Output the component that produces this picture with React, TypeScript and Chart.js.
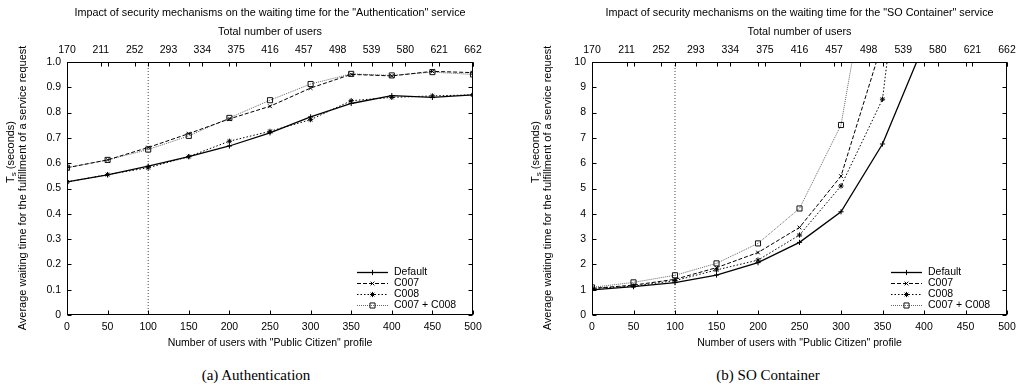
import React, { useEffect, useRef } from 'react';
import { Chart, registerables } from 'chart.js';

Chart.register(...registerables);

// ---------- data ----------
const USERS = [0, 50, 100, 150, 200, 250, 300, 350, 400, 450, 500];
const TOTAL_USERS_TICKS = [170, 211, 252, 293, 334, 375, 416, 457, 498, 539, 580, 621, 662];
const THRESHOLD_USERS = 100;
const SERIES_LABELS = ['Default', 'C007', 'C008', 'C007 + C008'];

const AUTH_DEFAULT = [0.526, 0.554, 0.588, 0.626, 0.668, 0.72, 0.783, 0.836, 0.867, 0.86, 0.87];
const AUTH_C007 = [0.582, 0.613, 0.662, 0.717, 0.775, 0.825, 0.897, 0.951, 0.945, 0.963, 0.958];
const AUTH_C008 = [0.526, 0.555, 0.582, 0.626, 0.687, 0.726, 0.772, 0.847, 0.86, 0.866, 0.87];
const AUTH_C007_C008 = [0.582, 0.613, 0.654, 0.708, 0.779, 0.849, 0.913, 0.953, 0.947, 0.96, 0.951];

const SO_DEFAULT = [0.99, 1.12, 1.28, 1.58, 2.07, 2.87, 4.08, 6.76, 10.7];
const SO_C007 = [1.05, 1.18, 1.41, 1.87, 2.47, 3.46, 5.49, 10.78];
const SO_C008 = [1.05, 1.14, 1.36, 1.78, 2.17, 3.16, 5.1, 8.53, 22];
const SO_C007_C008 = [1.09, 1.29, 1.57, 2.04, 2.83, 4.21, 7.51, 16.9];

const AUTH_TITLE = 'Impact of security mechanisms on the waiting time for the "Authentication" service';
const SO_TITLE = 'Impact of security mechanisms on the waiting time for the "SO Container" service';
const X2_TITLE = 'Total number of users';
const X_TITLE = 'Number of users with "Public Citizen" profile';
const Y_TITLE = 'Average waiting time for the fulfillment of a service request';
const Y_UNIT_MAIN = 'T';
const Y_UNIT_SUB = 's';
const Y_UNIT_REST = ' (seconds)';

// ---------- styles ----------
const FONT = '"Liberation Sans", Arial, Helvetica, sans-serif';
const STYLES = [
  { color: '#000', pointColor: '#000', width: 1.3, dash: [] as number[], point: 'cross', radius: 2.6 },
  { color: '#000', pointColor: '#000', width: 1, dash: [4, 2], point: 'crossRot', radius: 2.6 },
  { color: '#000', pointColor: '#000', width: 1, dash: [1.5, 2], point: 'star', radius: 2.6 },
  { color: '#666', pointColor: '#111', width: 1, dash: [1, 1], point: 'rect', radius: 3.6 },
];

const CANVAS_W = 512;
const CANVAS_H = 352;

function drawMarker(ctx: CanvasRenderingContext2D, style: string, x: number, y: number, r: number) {
  ctx.beginPath();
  if (style === 'cross' || style === 'star') {
    ctx.moveTo(x - r, y); ctx.lineTo(x + r, y);
    ctx.moveTo(x, y - r); ctx.lineTo(x, y + r);
  }
  if (style === 'crossRot' || style === 'star') {
    const d = r * Math.SQRT1_2;
    ctx.moveTo(x - d, y - d); ctx.lineTo(x + d, y + d);
    ctx.moveTo(x - d, y + d); ctx.lineTo(x + d, y - d);
  }
  if (style === 'rect') {
    const s = r * Math.SQRT1_2;
    ctx.rect(x - s, y - s, 2 * s, 2 * s);
  }
  ctx.stroke();
}

const gnuplotDecor = {
  id: 'gnuplotDecor',
  afterDraw(chart: any) {
    const ctx: CanvasRenderingContext2D = chart.ctx;
    const a = chart.chartArea;
    const o = chart.options.plugins.gnuplotDecor || {};
    const L = Math.round(a.left) + 0.5;
    const R = Math.round(a.right) - 0.5;
    const T = Math.round(a.top) + 0.5;
    const B = Math.round(a.bottom) - 0.5;
    const TL = 4;
    ctx.save();
    ctx.strokeStyle = '#000';
    ctx.lineWidth = 1;
    ctx.setLineDash([]);
    // frame
    ctx.strokeRect(L, T, R - L, B - T);
    // ticks
    ctx.beginPath();
    const xs = chart.scales.x;
    xs.ticks.forEach((t: any) => {
      const px = Math.round(xs.getPixelForValue(t.value)) + 0.5;
      ctx.moveTo(px, B); ctx.lineTo(px, B - TL);
      ctx.moveTo(px, T); ctx.lineTo(px, T + TL);
    });
    const x2 = chart.scales.x2;
    x2.ticks.forEach((t: any) => {
      const px = Math.round(x2.getPixelForValue(t.value)) + 0.5;
      ctx.moveTo(px, T); ctx.lineTo(px, T + TL);
    });
    const ys = chart.scales.y;
    ys.ticks.forEach((t: any) => {
      const py = Math.round(ys.getPixelForValue(t.value)) + 0.5;
      ctx.moveTo(L, py); ctx.lineTo(L + TL, py);
      ctx.moveTo(R, py); ctx.lineTo(R - TL, py);
    });
    ctx.stroke();

    // legend (bottom-right inside the plot)
    ctx.font = `10.5px ${FONT}`;
    ctx.fillStyle = '#000';
    ctx.textBaseline = 'middle';
    ctx.textAlign = 'left';
    const rows = [43, 32, 21, 10];
    chart.data.datasets.slice(0, 4).forEach((ds: any, i: number) => {
      const y = Math.round(a.bottom - rows[i]) + 0.5;
      const x0 = a.right - 116;
      const x1 = a.right - 85;
      ctx.strokeStyle = ds.borderColor;
      ctx.lineWidth = ds.borderWidth;
      ctx.setLineDash(ds.borderDash || []);
      ctx.beginPath();
      ctx.moveTo(x0, y); ctx.lineTo(x1, y);
      ctx.stroke();
      ctx.setLineDash([]);
      ctx.lineWidth = 1;
      ctx.strokeStyle = ds.pointBorderColor;
      drawMarker(ctx, ds.pointStyle, (x0 + x1) / 2, y, ds.pointRadius);
      ctx.fillText(ds.label, a.right - 79, y);
    });

    // y axis title (two rotated lines)
    ctx.fillStyle = '#000';
    ctx.textBaseline = 'middle';
    ctx.save();
    ctx.translate(o.xMain, o.yMain);
    ctx.rotate(-Math.PI / 2);
    ctx.font = `11px ${FONT}`;
    ctx.textAlign = 'center';
    ctx.fillText(Y_TITLE, 0, 0);
    ctx.restore();

    ctx.save();
    ctx.translate(o.xUnit, o.yUnit);
    ctx.rotate(-Math.PI / 2);
    ctx.textAlign = 'left';
    ctx.font = `11px ${FONT}`;
    const wT = ctx.measureText(Y_UNIT_MAIN).width;
    const wR = ctx.measureText(Y_UNIT_REST).width;
    ctx.font = `8px ${FONT}`;
    const wS = ctx.measureText(Y_UNIT_SUB).width;
    const start = -(wT + wS + wR) / 2;
    ctx.font = `11px ${FONT}`;
    ctx.fillText(Y_UNIT_MAIN, start, 0);
    ctx.font = `8px ${FONT}`;
    ctx.fillText(Y_UNIT_SUB, start + wT, 3);
    ctx.font = `11px ${FONT}`;
    ctx.fillText(Y_UNIT_REST, start + wT + wS, 0);
    ctx.restore();

    ctx.restore();
  },
};

type Cfg = {
  title: string;
  series: number[][];
  yMax: number;
  yStep: number;
  yWidth: number;
  padRight: number;
  xUnit: number;
  yUnit: number;
  xMain: number;
  yMain: number;
};

function buildConfig(c: Cfg): any {
  const datasets: any[] = c.series.map((vals, i) => ({
    label: SERIES_LABELS[i],
    data: vals.map((v, j) => ({ x: USERS[j], y: v })),
    borderColor: STYLES[i].color,
    borderWidth: STYLES[i].width,
    borderDash: STYLES[i].dash,
    pointStyle: STYLES[i].point,
    pointRadius: STYLES[i].radius,
    pointBorderColor: STYLES[i].pointColor,
    pointBorderWidth: 1,
    pointBackgroundColor: 'rgba(0,0,0,0)',
    fill: false,
    tension: 0,
  }));
  datasets.push({
    label: 'threshold',
    data: [{ x: THRESHOLD_USERS, y: 0 }, { x: THRESHOLD_USERS, y: c.yMax }],
    borderColor: '#444',
    borderWidth: 1,
    borderDash: [1, 2],
    pointRadius: 0,
    fill: false,
  });
  const tickFont = { family: FONT, size: 10.5 };
  return {
    type: 'line',
    data: { datasets },
    plugins: [gnuplotDecor],
    options: {
      responsive: false,
      animation: false,
      events: [],
      layout: { padding: { left: 0, right: c.padRight, top: 0, bottom: 0 } },
      plugins: {
        legend: { display: false },
        tooltip: { enabled: false },
        title: { display: false },
        gnuplotDecor: { xUnit: c.xUnit, yUnit: c.yUnit, xMain: c.xMain, yMain: c.yMain },
      },
      scales: {
        x: {
          type: 'linear',
          position: 'bottom',
          min: 0,
          max: 500,
          ticks: { stepSize: 50, padding: 6, font: tickFont, color: '#000', maxRotation: 0 },
          grid: { display: false, drawTicks: false },
          border: { display: false },
          title: {
            display: true,
            text: X_TITLE,
            font: { family: FONT, size: 10.5 },
            color: '#000',
            padding: { top: 0, bottom: 3 },
          },
          afterFit: (s: any) => {
            s.height = CANVAS_H - 315;
            s.paddingLeft = 0;
            s.paddingRight = 0;
          },
        },
        x2: {
          type: 'linear',
          position: 'top',
          min: 170,
          max: 662,
          afterBuildTicks: (s: any) => {
            s.ticks = TOTAL_USERS_TICKS.map((v) => ({ value: v }));
          },
          ticks: { padding: 6, font: tickFont, color: '#000', maxRotation: 0, autoSkip: false },
          grid: { display: false, drawTicks: false },
          border: { display: false },
          title: {
            display: true,
            text: [c.title, X2_TITLE],
            font: { family: FONT, size: 10.8, lineHeight: 1.7 },
            color: '#000',
            padding: { top: 4, bottom: 0 },
          },
          afterFit: (s: any) => {
            s.height = 62;
            s.paddingLeft = 0;
            s.paddingRight = 0;
          },
        },
        y: {
          type: 'linear',
          min: 0,
          max: c.yMax,
          ticks: { stepSize: c.yStep, padding: 6, font: tickFont, color: '#000' },
          grid: { display: false, drawTicks: false },
          border: { display: false },
          afterFit: (s: any) => {
            s.width = c.yWidth;
            s.paddingTop = 0;
            s.paddingBottom = 0;
          },
        },
      },
    },
  };
}

function Panel({ cfg, left, caption }: { cfg: Cfg; left: number; caption: string }) {
  const ref = useRef<HTMLCanvasElement | null>(null);
  useEffect(() => {
    if (!ref.current) return;
    const chart = new Chart(ref.current, buildConfig(cfg));
    return () => chart.destroy();
  }, []);
  return (
    <>
      <canvas
        ref={ref}
        width={CANVAS_W}
        height={CANVAS_H}
        style={{ position: 'absolute', left, top: 0, width: CANVAS_W, height: CANVAS_H }}
      />
      <div
        style={{
          position: 'absolute',
          left,
          top: 364,
          width: CANVAS_W,
          height: 22,
          lineHeight: '22px',
          textAlign: 'center',
          fontFamily: '"Liberation Serif", "DejaVu Serif", serif',
          fontSize: 15,
          color: '#000',
        }}
      >
        {caption}
      </div>
    </>
  );
}

const AUTH_CFG: Cfg = {
  title: AUTH_TITLE,
  series: [AUTH_DEFAULT, AUTH_C007, AUTH_C008, AUTH_C007_C008],
  yMax: 1,
  yStep: 0.1,
  yWidth: 67,
  padRight: 39,
  xUnit: 11,
  yUnit: 152,
  xMain: 23,
  yMain: 188,
};

const SO_CFG: Cfg = {
  title: SO_TITLE,
  series: [SO_DEFAULT, SO_C007, SO_C008, SO_C007_C008],
  yMax: 10,
  yStep: 1,
  yWidth: 80,
  padRight: 17,
  xUnit: 24,
  yUnit: 152,
  xMain: 36,
  yMain: 188,
};

export default function App() {
  return (
    <div
      style={{
        position: 'absolute',
        left: 0,
        top: 0,
        width: 1023,
        height: 389,
        background: '#fff',
        overflow: 'hidden',
      }}
    >
      <Panel cfg={AUTH_CFG} left={0} caption="(a) Authentication" />
      <Panel cfg={SO_CFG} left={512} caption="(b) SO Container" />
    </div>
  );
}
